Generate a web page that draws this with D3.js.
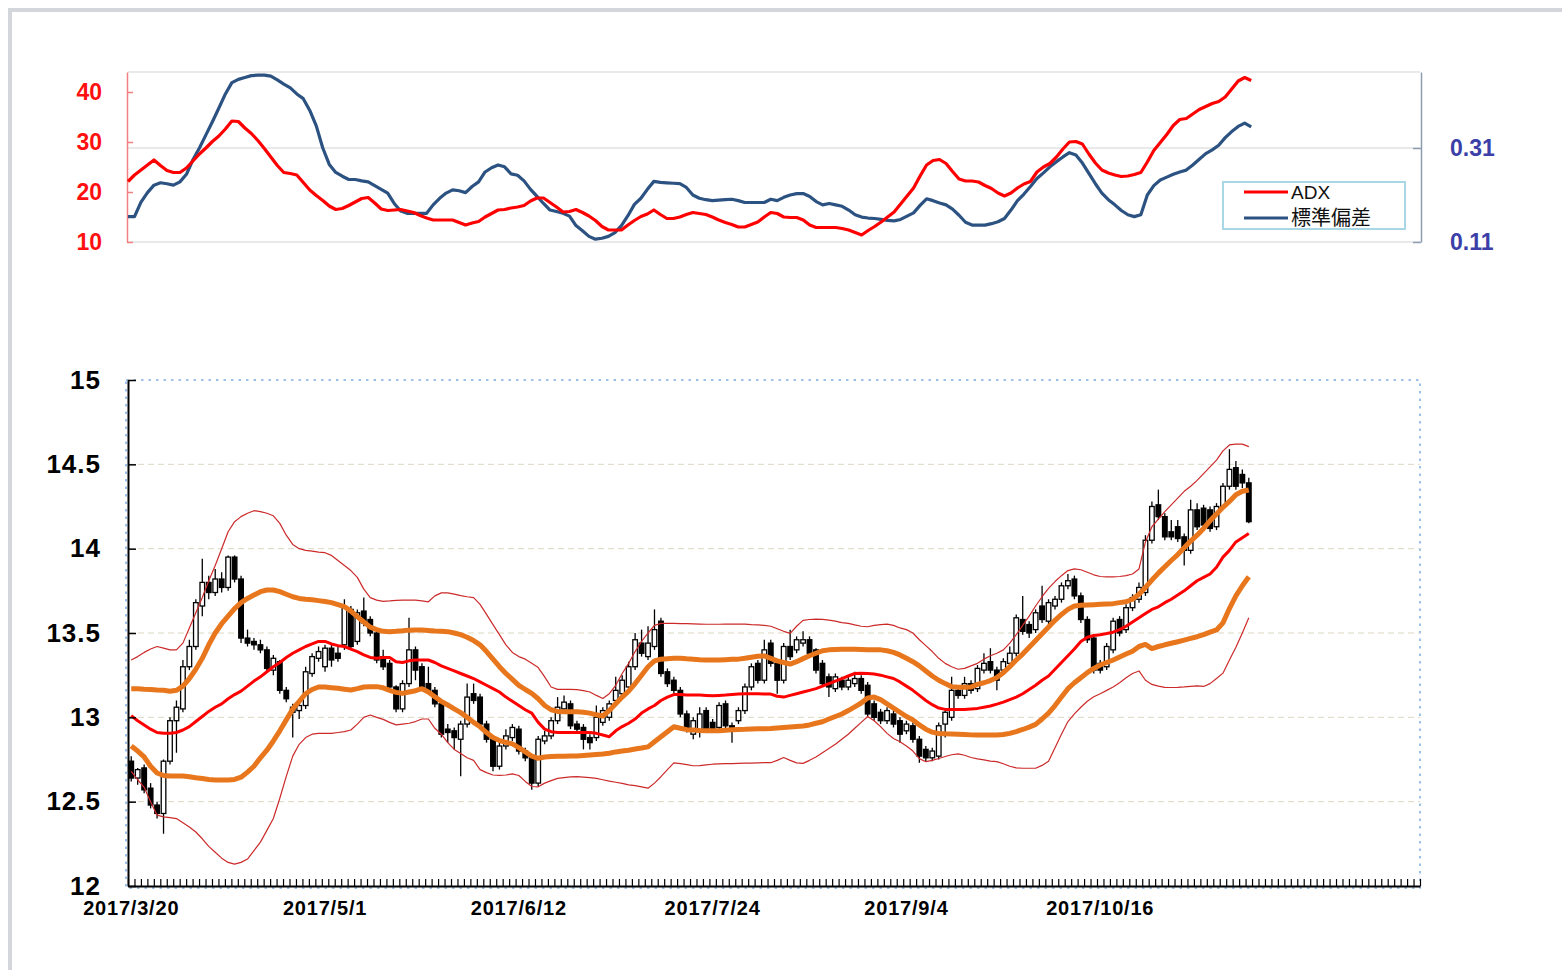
<!DOCTYPE html>
<html>
<head>
<meta charset="utf-8">
<script src="https://cdn.jsdelivr.net/npm/d3@7"></script>
<style>
  html, body { margin: 0; padding: 0; background: #fff; }
  svg { display: block; }
</style>
</head>
<body>
<svg id="chart" width="1562" height="970"></svg>
<script>
// categories: weekdays starting 2017/3/20 (200 slots on the axis)
const dates = d3.timeDay.range(new Date(2017, 2, 20), new Date(2018, 1, 1))
  .filter(d => d.getDay() % 6 !== 0).slice(0, 200)
const fmt = d3.timeFormat('%Y/%-m/%-d')
const cats = dates.map(fmt)
const xTickLabels = ['2017/3/20', '2017/5/1', '2017/6/12', '2017/7/24', '2017/9/4', '2017/10/16']

const priceTicks = [12, 12.5, 13, 13.5, 14, 14.5, 15]
const adxTicks = [10, 20, 30, 40]
const sdTicks = [0.11, 0.31]

// top panel
const adx = [22.1,23.4,24.4,25.4,26.4,25.3,24.3,23.9,23.9,24.8,
  26.2,27.6,28.8,30.1,31.2,32.6,34.2,34.1,32.8,31.7,
  30.3,28.7,27.0,25.3,23.9,23.7,23.4,21.9,20.4,19.3,
  18.3,17.2,16.5,16.7,17.3,18.0,18.7,18.9,17.8,16.6,
  16.3,16.4,16.5,16.2,15.9,15.3,14.8,14.4,14.4,14.4,
  14.4,13.9,13.4,13.8,14.1,15.0,15.7,16.4,16.5,16.8,
  17.0,17.3,18.2,18.8,18.8,17.9,17.0,16.0,16.1,16.5,
  15.9,15.2,14.3,13.1,12.4,12.4,12.4,13.4,14.3,15.1,
  15.6,16.4,15.5,14.7,14.7,15.0,15.5,15.9,15.7,15.5,
  15.0,14.4,13.9,13.5,13.0,13.0,13.5,14.0,15.0,15.9,
  15.7,15.0,14.9,14.9,14.4,13.4,12.9,12.9,12.9,12.9,
  12.7,12.4,11.9,11.4,12.3,13.1,14.0,15.0,16.0,17.6,
  19.2,20.8,23.2,25.4,26.3,26.5,25.7,24.1,22.6,22.2,
  22.2,22.0,21.3,20.7,19.8,19.2,19.8,20.8,21.6,22.1,
  24.0,25.0,25.7,27.0,28.6,30.0,30.1,29.6,27.6,25.8,
  24.4,23.8,23.4,23.1,23.2,23.5,23.9,26.0,28.3,29.9,
  31.5,33.3,34.5,34.7,35.6,36.5,37.1,37.7,38.1,39.0,
  40.6,42.2,42.9,42.3]
const sd = [0.164,0.164,0.195,0.215,0.231,0.236,0.234,0.231,0.238,0.254,
  0.285,0.310,0.338,0.366,0.395,0.425,0.449,0.456,0.460,0.464,
  0.465,0.465,0.463,0.455,0.446,0.438,0.425,0.415,0.390,0.357,
  0.310,0.275,0.258,0.250,0.243,0.243,0.240,0.238,0.230,0.222,
  0.214,0.192,0.176,0.171,0.171,0.171,0.171,0.189,0.203,0.214,
  0.221,0.219,0.215,0.228,0.238,0.259,0.268,0.274,0.270,0.255,
  0.252,0.240,0.222,0.207,0.192,0.178,0.175,0.171,0.165,0.145,
  0.134,0.122,0.116,0.118,0.122,0.130,0.145,0.166,0.190,0.203,
  0.222,0.239,0.237,0.236,0.235,0.234,0.226,0.210,0.203,0.200,
  0.198,0.199,0.200,0.201,0.198,0.194,0.194,0.194,0.194,0.201,
  0.198,0.205,0.210,0.213,0.213,0.207,0.196,0.189,0.192,0.189,
  0.186,0.178,0.168,0.163,0.161,0.160,0.158,0.156,0.155,0.158,
  0.165,0.172,0.188,0.202,0.198,0.193,0.189,0.180,0.167,0.152,
  0.146,0.146,0.146,0.149,0.153,0.160,0.178,0.198,0.212,0.228,
  0.245,0.257,0.270,0.281,0.291,0.300,0.295,0.278,0.256,0.234,
  0.214,0.200,0.189,0.177,0.168,0.164,0.168,0.210,0.230,0.242,
  0.248,0.254,0.259,0.263,0.274,0.286,0.298,0.306,0.316,0.332,
  0.345,0.356,0.363,0.355]

// bottom panel: candles
const open = [12.74,12.64,12.70,12.58,12.48,12.43,12.74,12.98,13.05,13.30,
  13.42,13.66,13.80,13.74,13.82,13.77,13.95,13.82,13.47,13.45,
  13.43,13.40,13.28,13.33,13.16,13.03,13.04,13.07,13.26,13.35,
  13.30,13.41,13.38,13.43,13.64,13.45,13.63,13.58,13.50,13.36,
  13.32,13.18,13.05,13.20,13.40,13.30,13.20,13.16,13.08,12.93,
  12.92,12.87,12.96,13.14,13.12,12.96,12.87,12.71,12.83,12.88,
  12.93,12.80,12.76,12.61,12.86,12.89,12.98,13.05,13.08,12.96,
  12.94,12.88,12.88,12.97,13.00,13.10,13.14,13.18,13.30,13.44,
  13.36,13.42,13.57,13.27,13.22,13.16,13.02,12.90,12.92,13.04,
  12.97,12.94,13.08,12.95,12.98,13.04,13.18,13.32,13.22,13.44,
  13.32,13.22,13.42,13.40,13.44,13.46,13.40,13.32,13.24,13.17,
  13.22,13.18,13.20,13.23,13.19,13.08,13.03,12.98,13.02,12.98,
  12.92,12.95,12.87,12.81,12.76,12.77,12.96,13.00,13.16,13.13,
  13.20,13.17,13.28,13.33,13.28,13.28,13.32,13.38,13.58,13.55,
  13.52,13.66,13.57,13.66,13.70,13.78,13.82,13.72,13.58,13.47,
  13.32,13.30,13.40,13.58,13.52,13.65,13.70,13.74,14.05,14.26,
  14.19,14.10,14.13,14.07,13.99,14.23,14.24,14.23,14.13,14.25,
  14.37,14.48,14.44,14.39]
const high = [12.77,12.70,12.72,12.61,12.50,12.75,13.00,13.10,13.34,13.46,
  13.70,13.94,13.84,13.88,13.86,13.96,13.96,13.84,13.52,13.47,
  13.46,13.42,13.37,13.34,13.18,13.08,13.10,13.30,13.38,13.42,
  13.43,13.43,13.42,13.70,13.66,13.64,13.71,13.60,13.52,13.40,
  13.34,13.19,13.22,13.59,13.42,13.32,13.30,13.18,13.10,12.96,
  12.94,12.98,13.20,13.20,13.14,12.98,12.88,12.85,12.93,12.96,
  12.95,12.82,12.78,12.89,12.92,13.00,13.12,13.13,13.10,12.98,
  12.96,12.90,13.07,13.06,13.10,13.24,13.25,13.33,13.50,13.52,
  13.54,13.64,13.59,13.29,13.24,13.18,13.04,13.00,13.06,13.06,
  12.99,13.09,13.10,12.97,13.06,13.20,13.32,13.34,13.46,13.46,
  13.34,13.44,13.52,13.48,13.51,13.48,13.41,13.34,13.26,13.26,
  13.24,13.24,13.27,13.25,13.21,13.10,13.05,13.06,13.04,13.00,
  12.98,12.97,12.89,12.83,12.82,12.97,13.05,13.24,13.18,13.24,
  13.22,13.31,13.38,13.41,13.30,13.35,13.42,13.61,13.72,13.57,
  13.64,13.78,13.70,13.72,13.80,13.85,13.84,13.74,13.60,13.48,
  13.34,13.44,13.59,13.60,13.67,13.73,13.80,14.08,14.28,14.35,
  14.21,14.17,14.17,14.09,14.29,14.27,14.26,14.25,14.27,14.39,
  14.59,14.52,14.47,14.42]
const low = [12.62,12.60,12.55,12.46,12.40,12.31,12.72,12.79,13.03,13.28,
  13.40,13.60,13.70,13.72,13.74,13.75,13.80,13.44,13.42,13.40,
  13.38,13.27,13.25,13.14,13.09,12.88,12.99,13.05,13.24,13.33,
  13.27,13.30,13.33,13.40,13.40,13.43,13.54,13.48,13.32,13.28,
  13.16,13.03,13.03,13.18,13.22,13.16,13.14,13.06,12.88,12.85,
  12.81,12.65,12.94,13.08,12.94,12.85,12.68,12.69,12.81,12.86,
  12.78,12.74,12.57,12.59,12.84,12.87,12.96,13.03,12.93,12.91,
  12.81,12.81,12.86,12.95,12.98,13.08,13.12,13.16,13.28,13.36,
  13.34,13.40,13.24,13.18,13.14,13.00,12.91,12.87,12.88,12.91,
  12.91,12.92,12.93,12.85,12.96,13.02,13.16,13.20,13.20,13.30,
  13.14,13.20,13.34,13.38,13.42,13.36,13.26,13.18,13.12,13.15,
  13.16,13.16,13.18,13.14,13.00,12.98,12.96,12.96,12.94,12.85,
  12.90,12.85,12.73,12.74,12.74,12.75,12.88,12.98,13.11,13.11,
  13.14,13.15,13.26,13.26,13.16,13.26,13.30,13.36,13.49,13.47,
  13.50,13.56,13.55,13.64,13.68,13.76,13.70,13.56,13.44,13.26,
  13.26,13.28,13.38,13.48,13.50,13.63,13.68,13.72,14.03,14.17,
  14.05,14.05,14.04,13.90,13.97,14.11,14.12,14.10,14.11,14.23,
  14.35,14.35,14.36,14.15]
const close = [12.64,12.69,12.57,12.48,12.43,12.74,12.98,13.06,13.30,13.42,
  13.68,13.80,13.74,13.82,13.77,13.95,13.82,13.47,13.44,13.43,
  13.40,13.29,13.35,13.16,13.11,13.06,13.07,13.27,13.36,13.39,
  13.41,13.34,13.35,13.65,13.42,13.62,13.56,13.50,13.34,13.30,
  13.18,13.05,13.20,13.40,13.28,13.18,13.16,13.08,12.90,12.91,
  12.88,12.96,13.12,13.10,12.96,12.87,12.71,12.83,12.89,12.94,
  12.80,12.76,12.61,12.87,12.89,12.98,13.06,13.09,12.95,12.93,
  12.87,12.85,13.00,13.04,13.08,13.16,13.22,13.30,13.46,13.38,
  13.44,13.52,13.26,13.20,13.16,13.02,12.93,12.98,13.02,12.93,
  12.93,13.07,12.95,12.92,13.04,13.18,13.30,13.22,13.40,13.32,
  13.22,13.42,13.36,13.46,13.46,13.38,13.28,13.20,13.18,13.24,
  13.18,13.22,13.23,13.16,13.02,13.00,12.98,13.04,12.96,12.90,
  12.96,12.87,12.77,12.76,12.80,12.95,13.03,13.16,13.13,13.20,
  13.16,13.29,13.32,13.28,13.22,13.33,13.38,13.59,13.51,13.50,
  13.62,13.58,13.68,13.70,13.78,13.81,13.72,13.58,13.46,13.28,
  13.28,13.42,13.57,13.50,13.65,13.71,13.77,14.05,14.25,14.19,
  14.07,14.07,14.06,13.99,14.23,14.13,14.14,14.12,14.25,14.37,
  14.47,14.37,14.39,14.16]

// bands
const mid = [13.01,12.98,12.955,12.93,12.91,12.905,12.905,12.91,12.925,12.945,
  12.975,13.005,13.035,13.06,13.08,13.11,13.135,13.155,13.185,13.215,
  13.24,13.27,13.30,13.325,13.355,13.38,13.40,13.42,13.435,13.45,
  13.45,13.435,13.425,13.42,13.405,13.39,13.37,13.355,13.35,13.355,
  13.355,13.33,13.325,13.335,13.34,13.34,13.34,13.325,13.305,13.29,
  13.275,13.26,13.245,13.23,13.21,13.19,13.17,13.15,13.12,13.095,
  13.07,13.045,13.025,12.97,12.93,12.915,12.91,12.91,12.91,12.91,
  12.91,12.91,12.905,12.895,12.885,12.92,12.945,12.965,12.99,13.025,
  13.05,13.07,13.10,13.12,13.135,13.135,13.133,13.132,13.132,13.13,
  13.128,13.13,13.132,13.135,13.138,13.14,13.14,13.14,13.138,13.138,
  13.125,13.12,13.13,13.14,13.15,13.16,13.17,13.185,13.20,13.215,
  13.23,13.245,13.26,13.262,13.26,13.257,13.25,13.24,13.23,13.21,
  13.185,13.16,13.13,13.10,13.075,13.055,13.047,13.047,13.047,13.047,
  13.05,13.053,13.06,13.067,13.078,13.09,13.105,13.12,13.14,13.165,
  13.19,13.22,13.245,13.285,13.325,13.365,13.405,13.45,13.475,13.485,
  13.49,13.497,13.505,13.52,13.54,13.565,13.59,13.615,13.64,13.655,
  13.68,13.70,13.725,13.75,13.78,13.81,13.83,13.85,13.89,13.95,
  13.99,14.04,14.065,14.09]
const up1 = [13.17,13.17,13.167,13.165,13.162,13.16,13.155,13.16,13.185,13.23,
  13.285,13.35,13.43,13.50,13.555,13.60,13.645,13.68,13.705,13.725,
  13.745,13.755,13.755,13.745,13.73,13.715,13.705,13.70,13.697,13.692,
  13.687,13.68,13.668,13.656,13.63,13.597,13.565,13.535,13.52,13.51,
  13.508,13.51,13.513,13.517,13.518,13.518,13.515,13.512,13.51,13.508,
  13.50,13.49,13.475,13.455,13.43,13.39,13.345,13.30,13.26,13.225,
  13.19,13.165,13.142,13.11,13.07,13.045,13.035,13.033,13.033,13.033,
  13.03,13.025,13.015,13.008,13.04,13.08,13.12,13.155,13.20,13.25,
  13.30,13.335,13.345,13.348,13.35,13.35,13.347,13.345,13.342,13.34,
  13.34,13.34,13.342,13.344,13.345,13.35,13.356,13.362,13.364,13.35,
  13.335,13.325,13.316,13.33,13.348,13.365,13.38,13.395,13.40,13.402,
  13.403,13.403,13.403,13.402,13.401,13.40,13.40,13.395,13.385,13.37,
  13.35,13.33,13.305,13.275,13.245,13.22,13.20,13.182,13.178,13.178,
  13.18,13.195,13.205,13.218,13.236,13.265,13.30,13.34,13.375,13.415,
  13.455,13.495,13.535,13.575,13.61,13.64,13.66,13.664,13.666,13.668,
  13.67,13.672,13.674,13.68,13.685,13.70,13.73,13.77,13.814,13.855,
  13.893,13.93,13.965,14.005,14.045,14.08,14.12,14.165,14.205,14.245,
  14.28,14.32,14.34,14.348]
const dn1 = [12.83,12.80,12.765,12.71,12.67,12.655,12.652,12.652,12.652,12.648,
  12.642,12.637,12.632,12.629,12.628,12.628,12.632,12.645,12.675,12.71,
  12.76,12.805,12.86,12.92,12.985,13.05,13.095,13.14,13.165,13.18,
  13.18,13.176,13.172,13.167,13.162,13.17,13.18,13.182,13.182,13.175,
  13.16,13.148,13.142,13.15,13.158,13.17,13.15,13.122,13.095,13.073,
  13.05,13.028,13.0,12.97,12.944,12.91,12.88,12.862,12.852,12.843,
  12.82,12.795,12.77,12.757,12.765,12.768,12.769,12.77,12.771,12.771,
  12.774,12.777,12.78,12.783,12.787,12.795,12.80,12.805,12.812,12.818,
  12.825,12.855,12.885,12.915,12.944,12.935,12.927,12.925,12.922,12.92,
  12.92,12.921,12.924,12.926,12.928,12.929,12.931,12.932,12.933,12.934,
  12.937,12.94,12.943,12.946,12.949,12.955,12.965,12.974,12.99,13.005,
  13.02,13.04,13.062,13.085,13.115,13.12,13.105,13.08,13.055,13.03,
  13.005,12.985,12.955,12.93,12.912,12.904,12.902,12.901,12.90,12.898,
  12.896,12.895,12.895,12.895,12.895,12.898,12.905,12.915,12.928,12.942,
  12.958,12.99,13.025,13.07,13.12,13.17,13.205,13.235,13.265,13.29,
  13.31,13.325,13.34,13.358,13.375,13.392,13.42,13.432,13.408,13.42,
  13.43,13.439,13.448,13.458,13.468,13.478,13.49,13.505,13.518,13.56,
  13.645,13.72,13.78,13.833]
const up2 = [13.34,13.36,13.385,13.405,13.42,13.41,13.40,13.40,13.44,13.53,
  13.62,13.71,13.81,13.90,14.00,14.10,14.16,14.19,14.21,14.225,
  14.22,14.21,14.195,14.15,14.08,14.025,14.00,13.99,13.985,13.98,
  13.976,13.96,13.93,13.90,13.87,13.83,13.76,13.71,13.695,13.687,
  13.69,13.694,13.695,13.695,13.695,13.69,13.685,13.72,13.738,13.738,
  13.73,13.722,13.715,13.71,13.67,13.61,13.55,13.49,13.43,13.385,
  13.36,13.345,13.32,13.295,13.24,13.18,13.166,13.166,13.166,13.164,
  13.158,13.15,13.13,13.112,13.14,13.19,13.26,13.32,13.39,13.45,
  13.50,13.545,13.557,13.557,13.557,13.556,13.555,13.554,13.553,13.552,
  13.552,13.552,13.553,13.553,13.553,13.553,13.55,13.548,13.545,13.54,
  13.525,13.51,13.498,13.54,13.575,13.58,13.582,13.581,13.576,13.57,
  13.562,13.557,13.548,13.54,13.537,13.545,13.55,13.553,13.545,13.53,
  13.52,13.50,13.46,13.425,13.39,13.35,13.32,13.30,13.285,13.29,
  13.305,13.32,13.345,13.365,13.38,13.40,13.44,13.49,13.545,13.60,
  13.66,13.715,13.765,13.805,13.84,13.87,13.88,13.875,13.86,13.845,
  13.835,13.833,13.833,13.835,13.84,13.85,13.88,14.04,14.13,14.175,
  14.22,14.26,14.30,14.34,14.37,14.405,14.445,14.485,14.525,14.58,
  14.615,14.62,14.62,14.605]
const dn2 = [12.68,12.63,12.585,12.50,12.42,12.41,12.405,12.40,12.375,12.35,
  12.32,12.28,12.235,12.20,12.165,12.14,12.13,12.14,12.16,12.21,
  12.26,12.33,12.40,12.52,12.65,12.77,12.84,12.88,12.90,12.905,
  12.905,12.905,12.91,12.915,12.925,12.96,13.00,13.014,13.00,12.988,
  12.97,12.955,12.96,12.965,12.975,12.99,12.99,12.935,12.90,12.85,
  12.81,12.785,12.76,12.745,12.69,12.672,12.658,12.656,12.658,12.665,
  12.655,12.62,12.59,12.588,12.61,12.625,12.638,12.643,12.647,12.648,
  12.645,12.642,12.638,12.63,12.622,12.615,12.608,12.60,12.595,12.588,
  12.58,12.61,12.648,12.69,12.73,12.725,12.72,12.713,12.714,12.718,
  12.722,12.724,12.725,12.726,12.727,12.728,12.729,12.73,12.731,12.731,
  12.745,12.762,12.745,12.73,12.727,12.745,12.765,12.79,12.815,12.84,
  12.87,12.90,12.935,12.97,13.005,12.98,12.945,12.905,12.875,12.855,
  12.83,12.80,12.755,12.737,12.745,12.756,12.768,12.778,12.783,12.775,
  12.762,12.754,12.748,12.74,12.737,12.725,12.71,12.70,12.698,12.698,
  12.698,12.715,12.74,12.82,12.90,12.975,13.02,13.06,13.095,13.122,
  13.14,13.16,13.18,13.205,13.235,13.26,13.275,13.22,13.195,13.185,
  13.178,13.177,13.178,13.18,13.183,13.186,13.183,13.20,13.23,13.262,
  13.34,13.415,13.50,13.59]

const svg = d3.select('#chart')
const font = "'Liberation Sans', Arial, sans-serif"

// outer frame
svg.append('rect')
  .attr('x', 10).attr('y', 10).attr('width', 1600).attr('height', 1000)
  .attr('fill', 'none').attr('stroke', '#d3d6db').attr('stroke-width', 4)

// ---------- top panel ----------
const xp = d3.scalePoint().domain(cats).range([128, 1420])
const yAdx = d3.scaleLinear().domain([10, 44]).range([242, 72])
const ySd = d3.scaleLinear().domain([0.11, 0.4717]).range([242, 72])

const topG = svg.append('g')

topG.selectAll('line.grid')
  .data([...sdTicks, ySd.domain()[1]])
  .join('line')
  .attr('x1', 128).attr('x2', 1420)
  .attr('y1', d => ySd(d)).attr('y2', d => ySd(d))
  .attr('stroke', '#e9e9e9').attr('stroke-width', 2)

const adxAxis = topG.append('g')
  .attr('transform', 'translate(127,0)')
  .call(d3.axisLeft(yAdx).tickValues(adxTicks).tickSize(-6).tickSizeOuter(0).tickPadding(25))
adxAxis.select('.domain').attr('stroke', '#f27f7f').attr('stroke-width', 1.5)
adxAxis.selectAll('.tick line').attr('stroke', '#f27f7f').attr('stroke-width', 1.5)
adxAxis.selectAll('.tick text')
  .attr('fill', '#ff1010').attr('font-family', font).attr('font-weight', 'bold').attr('font-size', 23)

const sdAxis = topG.append('g')
  .attr('transform', 'translate(1421,0)')
  .call(d3.axisRight(ySd).tickValues(sdTicks).tickSize(-8).tickSizeOuter(0).tickPadding(29).tickFormat(d3.format('.2f')))
sdAxis.select('.domain').attr('stroke', '#8d9db1').attr('stroke-width', 1.5)
sdAxis.selectAll('.tick line').attr('stroke', '#8d9db1').attr('stroke-width', 1.5)
sdAxis.selectAll('.tick text')
  .attr('fill', '#3c3fa8').attr('font-family', font).attr('font-weight', 'bold').attr('font-size', 23)

const lineAdx = d3.line().x((d, i) => xp(cats[i])).y(d => yAdx(d))
const lineSd = d3.line().x((d, i) => xp(cats[i])).y(d => ySd(d))

topG.append('path').datum(sd)
  .attr('d', lineSd).attr('fill', 'none')
  .attr('stroke', '#2c5282').attr('stroke-width', 3.2).attr('stroke-linejoin', 'round')
topG.append('path').datum(adx)
  .attr('d', lineAdx).attr('fill', 'none')
  .attr('stroke', '#ff0000').attr('stroke-width', 3.2).attr('stroke-linejoin', 'round')

// legend
const legend = topG.append('g')
legend.append('rect')
  .attr('x', 1223).attr('y', 182).attr('width', 182).attr('height', 47)
  .attr('fill', '#fff').attr('stroke', '#a8d8e6').attr('stroke-width', 2)
const legendItems = [
  { name: 'ADX', color: '#ff0000', y: 192, f: font, size: 19 },
  { name: '標準偏差', color: '#2c5282', y: 218, f: "'Noto Sans CJK JP', sans-serif", size: 20 }
]
legendItems.forEach(it => {
  legend.append('line')
    .attr('x1', 1244).attr('x2', 1288).attr('y1', it.y).attr('y2', it.y)
    .attr('stroke', it.color).attr('stroke-width', 3.2)
  legend.append('text')
    .attr('x', 1291).attr('y', it.y).attr('dy', '0.36em')
    .attr('font-family', it.f).attr('font-size', it.size).attr('fill', '#111')
    .text(it.name)
})

// ---------- bottom panel ----------
const xb = d3.scaleBand().domain(cats).range([128, 1420])
const bw = xb.bandwidth()
const cx = i => xb(cats[i]) + bw / 2
const yB = d3.scaleLinear().domain([12, 15]).range([886, 380])
const xi = d3.scaleLinear().domain([0, cats.length]).range([128, 1420])

const botG = svg.append('g')

// dotted plot border
botG.append('rect')
  .attr('x', 126).attr('y', 380).attr('width', 1294).attr('height', 508)
  .attr('fill', 'none').attr('stroke', '#9cc2ec').attr('stroke-width', 2)
  .attr('stroke-dasharray', '2.5,5')

// dashed grid lines
botG.selectAll('line.grid')
  .data(priceTicks.filter(v => v > 12 && v < 15))
  .join('line')
  .attr('x1', 128).attr('x2', 1420)
  .attr('y1', d => yB(d)).attr('y2', d => yB(d))
  .attr('stroke', '#dcd7c2').attr('stroke-width', 1).attr('stroke-dasharray', '6,4')

// candles
const cw = 4.6
const candle = botG.append('g').selectAll('g')
  .data(d3.range(close.length))
  .join('g')
candle.append('line')
  .attr('x1', i => cx(i)).attr('x2', i => cx(i))
  .attr('y1', i => yB(high[i])).attr('y2', i => yB(low[i]))
  .attr('stroke', '#000').attr('stroke-width', 1.3)
candle.append('rect')
  .attr('x', i => cx(i) - cw / 2)
  .attr('y', i => yB(Math.max(open[i], close[i])))
  .attr('width', cw)
  .attr('height', i => Math.max(1, Math.abs(yB(open[i]) - yB(close[i]))))
  .attr('fill', i => close[i] < open[i] ? '#000' : '#fff')
  .attr('stroke', '#000').attr('stroke-width', 1.3)

// band lines
const bandLine = d3.line().x((d, i) => cx(i)).y(d => yB(d))
const bands = [
  { data: up2, color: '#cc2a2a', w: 1.2 },
  { data: dn2, color: '#cc2a2a', w: 1.2 },
  { data: up1, color: '#e8761c', w: 5 },
  { data: dn1, color: '#e8761c', w: 5 },
  { data: mid, color: '#ff0000', w: 3 }
]
botG.selectAll('path.band')
  .data(bands)
  .join('path')
  .attr('class', 'band')
  .attr('d', d => bandLine(d.data))
  .attr('fill', 'none')
  .attr('stroke', d => d.color)
  .attr('stroke-width', d => d.w)
  .attr('stroke-linejoin', 'round')

// y axis
const yAxis = botG.append('g')
  .attr('transform', 'translate(128,0)')
  .call(d3.axisLeft(yB).tickValues(priceTicks).tickSize(-8).tickSizeOuter(0).tickPadding(27).tickFormat(d3.format('')))
yAxis.select('.domain').attr('stroke', '#000').attr('stroke-width', 2)
yAxis.selectAll('.tick line').attr('stroke', '#000').attr('stroke-width', 1.5)
yAxis.selectAll('.tick text')
  .attr('fill', '#000').attr('font-family', font).attr('font-weight', 'bold')
  .attr('font-size', 26).attr('letter-spacing', 1)

// x axis: one small tick per day, labels every 30 days
const xTicks = botG.append('g')
  .attr('transform', 'translate(0,886)')
  .call(d3.axisBottom(xi).tickValues(d3.range(cats.length + 1)).tickSize(-7).tickSizeOuter(0).tickFormat(''))
xTicks.select('.domain').attr('stroke', '#000').attr('stroke-width', 2)
xTicks.selectAll('.tick line').attr('stroke', '#000').attr('stroke-width', 1.2)

const xLabels = botG.append('g')
  .attr('transform', 'translate(0,886)')
  .call(d3.axisBottom(xb).tickValues(xTickLabels).tickSize(0).tickPadding(15))
xLabels.select('.domain').remove()
xLabels.selectAll('.tick text')
  .attr('fill', '#000').attr('font-family', font).attr('font-weight', 'bold')
  .attr('font-size', 20).attr('letter-spacing', 0.8)
</script>
</body>
</html>
